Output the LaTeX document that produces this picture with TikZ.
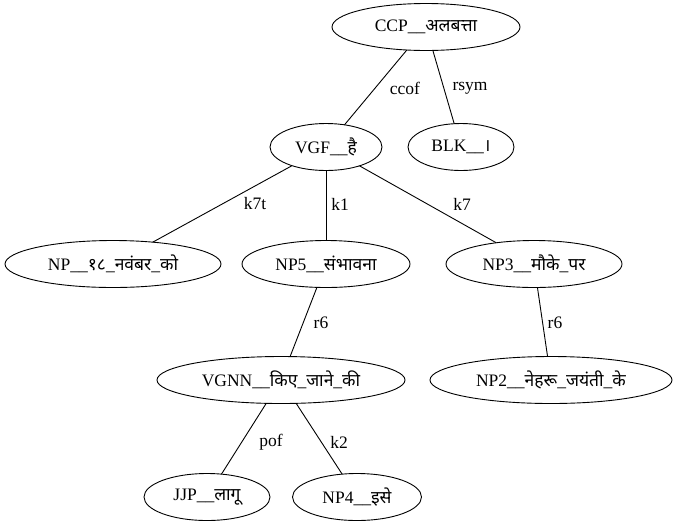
\documentclass[tikz,border=0pt]{standalone}
\usepackage{fontspec}
\setmainfont{Liberation Serif}
\newfontfamily\deva[Script=Devanagari]{Noto Sans}
\usetikzlibrary{shapes.geometric}
\newcommand{\dv}[1]{{\deva #1}}
\begin{document}
\begin{tikzpicture}[x=1pt,y=-1pt,
  nd/.style={ellipse, draw, line width=0.9pt, inner sep=0pt, outer sep=0pt,
    minimum height=47pt, font=\fontsize{17.5}{20}\selectfont},
  lbl/.style={inner sep=0pt, font=\fontsize{17.5}{20}\selectfont},
  edge/.style={line width=0.9pt}]
\useasboundingbox[fill=white] (0,0) rectangle (676,528);
\node[nd, minimum width=188pt] (ccp) at (426,27) {CCP\_\_\dv{अलबत्ता}};
\node[nd, minimum width=112pt] (vgf) at (326,147) {VGF\_\_\dv{है}};
\node[nd, minimum width=106pt] (blk) at (461,147) {BLK\_\_\dv{।}};
\node[nd, minimum width=216pt] (np18) at (113,264) {NP\_\_\dv{१८}\_\dv{नवंबर}\_\dv{को}};
\node[nd, minimum width=168pt] (np5) at (326,264) {NP5\_\_\dv{संभावना}};
\node[nd, minimum width=176pt] (np3) at (534,264) {NP3\_\_\dv{मौके}\_\dv{पर}};
\node[nd, minimum width=248pt] (vgnn) at (281,380) {VGNN\_\_\dv{किए}\_\dv{जाने}\_\dv{की}};
\node[nd, minimum width=242pt] (np2) at (551,380) {NP2\_\_\dv{नेहरू}\_\dv{जयंती}\_\dv{के}};
\node[nd, minimum width=126pt] (jjp) at (207,497) {JJP\_\_\dv{लागू}};
\node[nd, minimum width=129pt] (np4) at (357,497) {NP4\_\_\dv{इसे}};
\draw[edge] (ccp) -- (vgf) node[lbl] (l1) at (405,88) {ccof};
\draw[edge] (ccp) -- (blk) node[lbl] (l2) at (470,88) {rsym};
\draw[edge] (vgf) -- (np18) node[lbl] (l3) at (255,204) {k7t};
\draw[edge] (vgf) -- (np5) node[lbl] (l4) at (340,204) {k1};
\draw[edge] (vgf) -- (np3) node[lbl] (l5) at (462,204) {k7};
\draw[edge] (np5) -- (vgnn) node[lbl] (l6) at (321,323) {r6};
\draw[edge] (np3) -- (np2) node[lbl] (l7) at (555,323) {r6};
\draw[edge] (vgnn) -- (jjp) node[lbl] (l8) at (271,442) {pof};
\draw[edge] (vgnn) -- (np4) node[lbl] (l9) at (339,442) {k2};
\end{tikzpicture}
\end{document}
